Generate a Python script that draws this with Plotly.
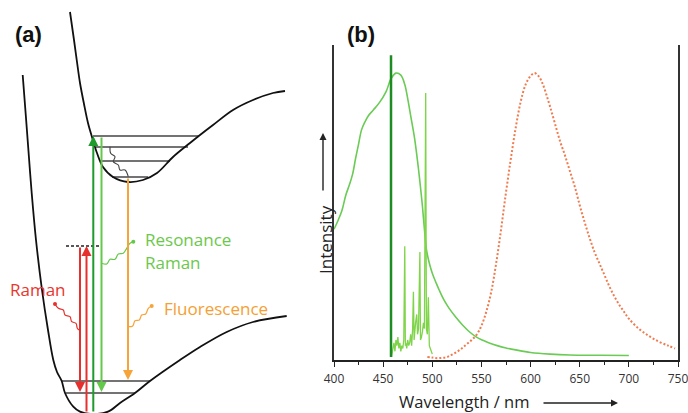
import plotly.graph_objects as go

# ---------------- Panel (b): spectra ----------------
abs_nm = [400, 404, 408, 412, 416, 419, 422, 425, 428, 431, 435, 440, 446, 453, 458, 463, 468,
          472, 475, 478, 482, 485, 487, 490, 492, 494, 497, 500, 504, 507, 512, 517, 524, 531,
          538, 545, 552, 558, 566, 575, 585, 600, 620, 640, 670, 700]
abs_int = [0.45, 0.48, 0.515, 0.57, 0.61, 0.645, 0.70, 0.75, 0.80, 0.825, 0.85, 0.87, 0.895,
           0.935, 0.98, 1.0, 0.993, 0.96, 0.91, 0.85, 0.77, 0.69, 0.63, 0.53, 0.45, 0.38, 0.33,
           0.295, 0.26, 0.236, 0.20, 0.172, 0.14, 0.112, 0.088, 0.07, 0.058, 0.049, 0.04, 0.032,
           0.025, 0.016, 0.01, 0.007, 0.006, 0.005]

raman_nm = [458.5, 459, 460, 461, 462, 463, 464, 465, 466, 467, 468, 469, 470, 471, 472, 472.6,
            473, 474, 475, 476, 477, 478, 479, 480, 480.8, 481.5, 482, 483, 484.2, 485, 486,
            487.4, 488, 489, 490, 491, 492, 493.3, 494, 495, 496, 496.6, 497, 498, 499, 500]
raman_int = [0.0, 0.02, 0.03, 0.05, 0.02, 0.06, 0.04, 0.07, 0.03, 0.05, 0.02, 0.04, 0.03, 0.06,
             0.39, 0.04, 0.05, 0.03, 0.06, 0.04, 0.05, 0.08, 0.04, 0.10, 0.23, 0.06, 0.09, 0.12,
             0.15, 0.08, 0.10, 0.37, 0.06, 0.07, 0.09, 0.12, 0.10, 0.93, 0.10, 0.08, 0.21, 0.05,
             0.04, 0.03, 0.02, 0.01]

fluo_nm = [495, 500, 505, 510, 515, 520, 525, 530, 535, 540, 545, 550, 555, 560, 565, 570, 575,
           580, 585, 590, 595, 600, 604, 608, 612, 616, 620, 625, 630, 635, 640, 645, 650, 655,
           660, 665, 670, 675, 680, 685, 690, 695, 700, 710, 720, 730, 740, 747]
fluo_int = [0.0, -0.002, -0.004, -0.003, 0.0, 0.008, 0.018, 0.03, 0.045, 0.06, 0.078, 0.11,
            0.16, 0.23, 0.33, 0.45, 0.58, 0.70, 0.81, 0.90, 0.96, 0.99, 1.0, 0.99, 0.965, 0.925,
            0.88, 0.82, 0.76, 0.71, 0.655, 0.60, 0.535, 0.475, 0.42, 0.37, 0.33, 0.29, 0.25,
            0.215, 0.185, 0.16, 0.135, 0.10, 0.075, 0.055, 0.04, 0.03]

laser_nm = [458, 458]
laser_int = [0.0, 1.063]

x_ticks = [400, 450, 500, 550, 600, 650, 700, 750]
x_ticklabels = ["400", "450", "500", "550", "600", "650", "700", "750"]
x_minor_ticks = [425, 475, 525, 575, 625, 675, 725]

# ---------------- Panel (a): energy diagram (picture units) ----------------
excited_x = [70, 74, 77, 80, 84, 88, 92, 97, 103, 113, 128, 143, 157, 173, 190, 200, 213, 233, 253, 273, 285]
excited_y = [12, 40, 62, 83, 104, 123, 137, 153, 167, 177, 182, 180, 173, 157, 143, 135, 125, 110, 100, 93, 91]
ground_x = [22.7, 26, 29, 31.7, 36, 42, 48, 53.3, 57, 61.7, 65, 73.3, 80, 93, 108, 120, 135, 150, 180, 200, 226.7, 253, 286.7]
ground_y = [75, 118, 158, 193, 240, 290, 330, 360, 372, 381, 393, 406.7, 411.7, 414, 411.7, 403, 393, 381, 360, 347, 332, 322, 316]

exc_level_y = [136, 147, 161, 177]
exc_level_x0 = [93, 96, 100, 112]
exc_level_x1 = [199, 188, 170, 148]
gnd_level_y = [381, 393]
gnd_level_x0 = [62, 65.5]
gnd_level_x1 = [150, 135]

virtual_x = [66, 101]
virtual_y = [246, 246]

relax_x = [110, 110.7, 115, 113.3, 118.3, 120, 125, 128.3]
relax_y = [146.7, 153.3, 156.7, 161.7, 165, 170, 170, 176.7]

red_sq_x = [55, 58.3, 63.3, 65, 70, 71.7, 76, 77.3, 79]
red_sq_y = [304, 308.3, 310, 315, 316.7, 321.7, 323.3, 328.3, 330]
green_sq_x = [101.7, 106.7, 110, 115, 118.3, 123.3, 126.7, 130, 133.3]
green_sq_y = [263.3, 264, 259.3, 259.3, 254, 253.3, 248.3, 243.3, 241.7]
orange_sq_x = [128.3, 132.7, 135, 139.3, 141.7, 145.7, 148.3, 151.7]
orange_sq_y = [326.7, 326, 320.7, 320, 315, 314, 308.3, 306]

trans_x = [80, 86.5, 93.3, 101.5, 128]
trans_y_from = [246, 413, 413, 136, 177]
trans_y_to = [392, 246, 136, 392, 380]
trans_colors = ["#e5302d", "#e5302d", "#1f9a2c", "#64c94a", "#f6a33a"]

RED, GREEN_L, ORANGE = "#e5302d", "#64c94a", "#f6a33a"

fig = go.Figure()

# ---- panel (b) traces ----
fig.add_trace(go.Scatter(x=abs_nm, y=abs_int, mode="lines",
                         line=dict(color="#6acb55", width=1.6, shape="spline"), xaxis="x", yaxis="y"))
fig.add_trace(go.Scatter(x=fluo_nm, y=fluo_int, mode="lines",
                         line=dict(color="#ef7b4f", width=2, dash="2px,2px", shape="spline"),
                         xaxis="x", yaxis="y"))
fig.add_trace(go.Scatter(x=raman_nm, y=raman_int, mode="lines",
                         line=dict(color="#7fd44a", width=1.3), xaxis="x", yaxis="y"))
fig.add_trace(go.Scatter(x=laser_nm, y=laser_int, mode="lines",
                         line=dict(color="#1d8c22", width=2.5), xaxis="x", yaxis="y"))

# ---- panel (a) traces ----
def seg(x0s, x1s, ys):
    xs, yy = [], []
    for a, b, c in zip(x0s, x1s, ys):
        xs += [a, b, None]
        yy += [c, c, None]
    return xs, yy

lx, ly = seg(exc_level_x0 + gnd_level_x0, exc_level_x1 + gnd_level_x1, exc_level_y + gnd_level_y)
fig.add_trace(go.Scatter(x=lx, y=ly, mode="lines", line=dict(color="#444", width=1.3),
                         xaxis="x2", yaxis="y2"))
fig.add_trace(go.Scatter(x=excited_x, y=excited_y, mode="lines",
                         line=dict(color="#111", width=1.8, shape="spline"), xaxis="x2", yaxis="y2"))
fig.add_trace(go.Scatter(x=ground_x, y=ground_y, mode="lines",
                         line=dict(color="#111", width=1.8, shape="spline"), xaxis="x2", yaxis="y2"))
fig.add_trace(go.Scatter(x=virtual_x, y=virtual_y, mode="lines",
                         line=dict(color="#222", width=1.3, dash="3px,2px"), xaxis="x2", yaxis="y2"))
fig.add_trace(go.Scatter(x=relax_x, y=relax_y, mode="lines",
                         line=dict(color="#444", width=1.1, shape="spline"), xaxis="x2", yaxis="y2"))
for sx, sy, col, end in [(red_sq_x, red_sq_y, RED, 0), (green_sq_x, green_sq_y, GREEN_L, -1),
                         (orange_sq_x, orange_sq_y, ORANGE, -1)]:
    fig.add_trace(go.Scatter(x=sx, y=sy, mode="lines", line=dict(color=col, width=1.2, shape="spline"),
                             xaxis="x2", yaxis="y2"))
    fig.add_trace(go.Scatter(x=[sx[end]], y=[sy[end]], mode="markers",
                             marker=dict(color=col, size=4), xaxis="x2", yaxis="y2"))

annotations = []
for tx, y0, y1, col in zip(trans_x, trans_y_from, trans_y_to, trans_colors):
    annotations.append(dict(x=tx, y=y1, ax=tx, ay=y0, xref="x2", yref="y2", axref="x2", ayref="y2",
                            text="", showarrow=True, arrowhead=2, arrowsize=1, arrowwidth=2,
                            arrowcolor=col, standoff=0, startstandoff=0))

lab_font = dict(family="Open Sans", size=17)
annotations += [
    dict(x=143, y=239, xref="x2", yref="y2", text="Resonance", showarrow=False, xanchor="left",
         yanchor="middle", font=dict(color="#6cc84c", **lab_font)),
    dict(x=143, y=262, xref="x2", yref="y2", text="Raman", showarrow=False, xanchor="left",
         yanchor="middle", font=dict(color="#6cc84c", **lab_font)),
    dict(x=8, y=289, xref="x2", yref="y2", text="Raman", showarrow=False, xanchor="left",
         yanchor="middle", font=dict(color="#e8362e", **lab_font)),
    dict(x=162, y=308, xref="x2", yref="y2", text="Fluorescence", showarrow=False, xanchor="left",
         yanchor="middle", font=dict(color="#f5a033", **lab_font)),
    dict(x=28, y=34, xref="x2", yref="y2", text="<b>(a)</b>", showarrow=False,
         font=dict(family="Liberation Sans", size=22, color="#111")),
    dict(x=361, y=34, xref="x2", yref="y2", text="<b>(b)</b>", showarrow=False,
         font=dict(family="Liberation Sans", size=22, color="#111")),
    dict(x=464, y=401, xref="x2", yref="y2", text="Wavelength / nm", showarrow=False,
         font=dict(family="Open Sans", size=16.5, color="#222")),
    dict(x=618, y=403, ax=542, ay=403, xref="x2", yref="y2", axref="x2", ayref="y2", text="",
         showarrow=True, arrowhead=2, arrowsize=1, arrowwidth=1.4, arrowcolor="#222", standoff=0),
    dict(x=325, y=240, xref="x2", yref="y2", text="Intensity", textangle=-90, showarrow=False,
         font=dict(family="Open Sans", size=17, color="#222")),
    dict(x=323, y=133, ax=323, ay=192, xref="x2", yref="y2", axref="x2", ayref="y2", text="",
         showarrow=True, arrowhead=2, arrowsize=1, arrowwidth=1.4, arrowcolor="#222", standoff=0),
]

fig.update_layout(
    width=688, height=413, autosize=False, margin=dict(l=0, r=0, t=0, b=0, pad=0),
    paper_bgcolor="white", plot_bgcolor="rgba(0,0,0,0)", showlegend=False,
    xaxis=dict(domain=[334 / 688, 678 / 688], range=[400, 750], showline=True, linecolor="#222",
               linewidth=1.5, ticks="outside", ticklen=5, tickwidth=1.2, tickcolor="#222",
               tickvals=x_ticks, ticktext=x_ticklabels, ticklabelstandoff=2,
               ticklabeloverflow="allow",
               tickfont=dict(family="Open Sans", size=12, color="#333"),
               minor=dict(tickvals=x_minor_ticks, ticks="outside", ticklen=3, tickcolor="#222",
                          tickwidth=1, showgrid=False),
               showgrid=False, zeroline=False, anchor="y", automargin=False),
    yaxis=dict(domain=[53 / 413, 368 / 413], range=[-0.0106, 1.099], showline=True, mirror=True,
               linecolor="#333", linewidth=1.6, showticklabels=False, ticks="", showgrid=False,
               zeroline=False, anchor="x", automargin=False),
    xaxis2=dict(domain=[0, 1], range=[0, 688], visible=False, anchor="y2"),
    yaxis2=dict(domain=[0, 1], range=[413, 0], visible=False, anchor="x2"),
    annotations=annotations,
)

fig.write_html("out.html", config={"responsive": False, "displayModeBar": False},
               post_script="document.body.style.margin='0';document.body.style.overflow='hidden';")
